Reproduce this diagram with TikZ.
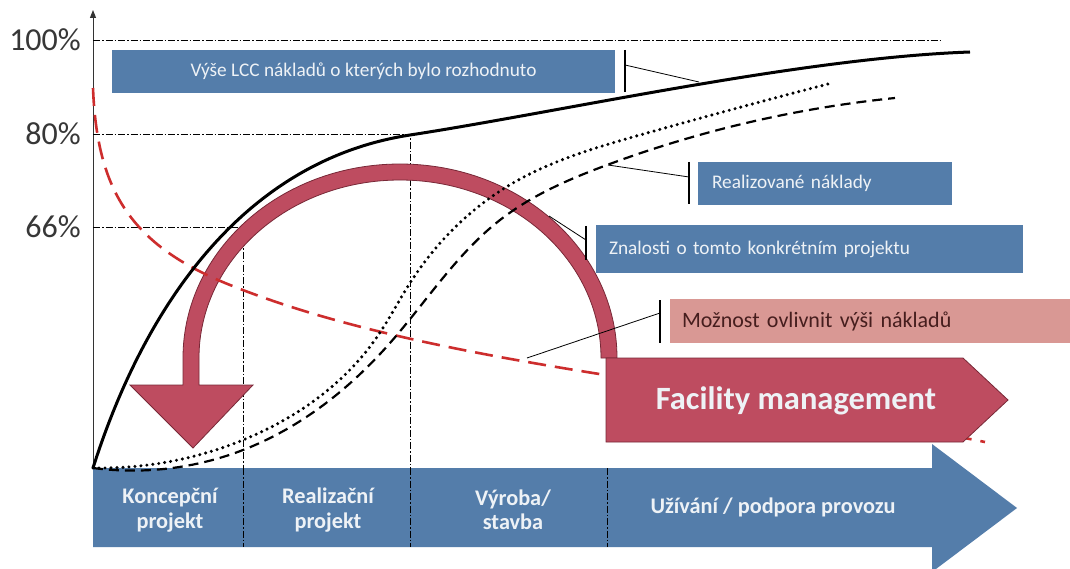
\documentclass[tikz,border=0pt]{standalone}
\usepackage{fontspec}
\setmainfont{Carlito}
\usetikzlibrary{arrows.meta,hobby}
\definecolor{barblue}{RGB}{84,125,170}
\definecolor{arcred}{RGB}{190,76,96}
\definecolor{arcedge}{RGB}{120,40,55}
\definecolor{pinkbox}{RGB}{217,152,148}
\definecolor{dashred}{RGB}{205,45,45}
\definecolor{lighttext}{RGB}{238,242,246}
\definecolor{pcttext}{RGB}{55,55,55}
\definecolor{darktext}{RGB}{70,30,30}
\tikzset{
  grid line/.style={line width=0.8pt, dash pattern=on 7pt off 2pt on 1.5pt off 2pt},
  main curve/.style={line width=3pt},
  dotcurve/.style={line width=3.4pt, line cap=round, dash pattern=on 0pt off 6pt},
  dashcurve/.style={line width=2.2pt, dash pattern=on 10pt off 6pt},
  reddash/.style={line width=2.6pt, dashred, dash pattern=on 18pt off 9pt},
  labelbox/.style={fill=barblue, draw=none, text=lighttext, font=\fontsize{19.3}{22}\selectfont, inner ysep=0pt},
  phase/.style={text=lighttext, font=\fontsize{22.3}{24.5}\selectfont\bfseries, align=center},
  pct/.style={text=pcttext, font=\fontsize{32}{34}\selectfont, anchor=east, inner sep=0pt},
  leader/.style={line width=0.8pt},
  leadertick/.style={line width=1.2pt},
}
\begin{document}
\begin{tikzpicture}[x=1pt,y=-1pt]
\useasboundingbox (0,0) rectangle (1070,569);
\fill[white] (0,0) rectangle (1070,569);

% axis
\coordinate (axbot) at (93,470);
\coordinate (axtop) at (93,10);
\draw[line width=1pt, black!80, -{Triangle[length=8pt,width=6pt]}] (axbot) -- (axtop);

% percent labels
\node[pct] (p100) at (81,40) {100\%};
\node[pct] (p80) at (81,134) {80\%};
\node[pct] (p66) at (81,227) {66\%};

% grid lines
\draw[grid line] (93,40) -- (942,40);
\draw[grid line] (93,134) -- (410,134) -- (410,547);
\draw[grid line] (93,227) -- (243,227) -- (243,547);

% phase bar arrow
\fill[barblue] (93,468) -- (932,468) -- (932,444) -- (1017,508) -- (932,572) -- (932,547) -- (93,547) -- cycle;
\draw[grid line] (243,468) -- (243,547);
\draw[grid line] (410,468) -- (410,547);
\draw[grid line] (607,468) -- (607,547);
\node[phase] (ph1) at (170,510) {Koncepční\\projekt};
\node[phase] (ph2) at (328,510) {Realizační\\projekt};
\node[phase] (ph3) at (513,510) {Výroba/\\stavba};
\node[phase] (ph4) at (773,507) {Užívání / podpora provozu};

% big curved arrow
\filldraw[fill=arcred, draw=arcedge, line width=0.8pt]
  (617,358) arc[start angle=0, end angle=-180, x radius=217, y radius=194]
  -- (183,385) -- (130,385) -- (193,448) -- (253,385) -- (199,385) -- (199,358)
  arc[start angle=180, end angle=360, x radius=201, y radius=178] -- cycle;

% red dashed curve (possibility to influence)
\draw[reddash] (93,88) .. controls (97,190) and (130,245) .. (230,285)
  .. controls (330,325) and (450,350) .. (593,373)
  .. controls (750,398) and (900,425) .. (985,442);

% facility management arrow
\filldraw[fill=arcred, draw=arcedge, line width=0.8pt] (606,358) -- (963,358) -- (1008,400) -- (963,442) -- (606,442) -- cycle;
\node[text=lighttext, font=\fontsize{32.5}{36}\selectfont\bfseries] (fm) at (796,401) {Facility management};

% dashed black curve (realised costs)
\draw[dashcurve, use Hobby shortcut] (93,468) .. (243,450) .. (390,343) .. (500,220) .. (607,165) .. (895,98);
% dotted curve (knowledge)
\draw[dotcurve, use Hobby shortcut] (93,468) .. (243,440) .. (377,337) .. (410,283) .. (513,183) .. (640,135) .. (828,84);
% solid curve (LCC decided)
\draw[main curve] (93,468) .. controls (140,320) and (235,162) .. (410,135)
  .. controls (560,112) and (800,58) .. (970,52);

% label boxes
\node[labelbox, minimum width=503pt, minimum height=43pt] (lcc) at (363.5,71.5) {Výše LCC nákladů o kterých bylo rozhodnuto};
\node[labelbox, minimum height=43pt, inner xsep=14pt, text width=226pt, align=left] (real) at (825,183.5) {Realizované náklady};
\node[labelbox, minimum height=48pt, inner xsep=13pt, text width=401pt, align=left] (know) at (809.5,249) {Znalosti o tomto konkrétním projektu};
\node[fill=pinkbox, text=darktext, font=\fontsize{22}{25}\selectfont, minimum height=44pt, inner ysep=0pt, inner xsep=12pt, text width=376pt, align=left] (poss) at (870,321) {Možnost ovlivnit výši nákladů};

% leaders
\coordinate (t1a) at (625,50); \coordinate (t1b) at (625,92); \coordinate (t1c) at (625,65); \coordinate (c1) at (699,82);
\draw[leadertick] (t1a) -- (t1b); \draw[leader] (t1c) -- (c1);
\coordinate (t2a) at (689,162); \coordinate (t2b) at (689,204); \coordinate (t2c) at (689,177); \coordinate (c2) at (608,165);
\draw[leadertick] (t2a) -- (t2b); \draw[leader] (t2c) -- (c2);
\coordinate (t3a) at (586,226); \coordinate (t3b) at (586,260); \coordinate (t3c) at (586,240); \coordinate (c3) at (549,216);
\draw[leadertick] (t3a) -- (t3b); \draw[leader] (t3c) -- (c3);
\coordinate (t4a) at (660,300); \coordinate (t4b) at (660,343); \coordinate (t4c) at (660,313); \coordinate (c4) at (527,358);
\draw[leadertick] (t4a) -- (t4b); \draw[leader] (t4c) -- (c4);
\end{tikzpicture}
\end{document}
